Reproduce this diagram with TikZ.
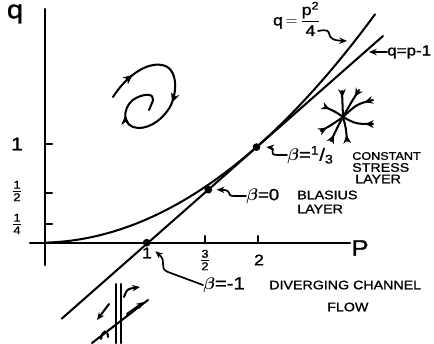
\documentclass[tikz,border=0pt]{standalone}
\usepackage{amsmath}
\usepackage{fontspec}
\setmainfont{Liberation Sans}
\setsansfont{Liberation Sans}
\newfontfamily\hw[FakeStretch=1.15,FakeBold=1.2]{Liberation Sans}
\usetikzlibrary{arrows.meta,decorations.markings}
\begin{document}
\begin{tikzpicture}[x=0.025cm,y=-0.025cm,
  ln/.style={line width=1.45pt, line cap=round},
  thin/.style={line width=1.2pt, line cap=round},
  tip/.style={-{Stealth[length=5.5pt,width=4.5pt]}},
  lbl/.style={font=\hw\fontsize{8.8}{9}\selectfont, inner sep=0pt, anchor=west},
  num/.style={font=\hw\fontsize{12}{12}\selectfont, inner sep=0pt},
  dot/.style={circle, fill, inner sep=0pt, minimum size=5.5pt},
  marks/.style={postaction={decorate}, decoration={markings,
     mark=at position #1 with {\arrow{Stealth[length=6pt,width=5.5pt]}}}},
]
\useasboundingbox (0,0) rectangle (434,343);

% axes
\coordinate (qtop) at (45,9);
\coordinate (qbot) at (45,265);
\coordinate (pl) at (30,242.7);
\coordinate (pr) at (350,242.7);
\draw[ln] (qbot) -- (qtop);
\draw[ln] (pl) -- (pr);

% ticks
\foreach \y in {144,192.7,224} \draw[ln] (45,\y) -- (52,\y);
\foreach \x in {205,257.7} \draw[ln] (\x,242.7) -- (\x,236);

% axis labels
\node[font=\hw\fontsize{18}{18}\selectfont, inner sep=0pt] (qlab) at (15,14) {q};
\node[font=\hw\fontsize{16}{16}\selectfont, inner sep=0pt] (plab) at (360,248) {P};
\node[num, font=\hw\fontsize{13}{13}\selectfont] (q1) at (17,144) {1};
\node[num] (q12) at (17,191) {$\frac{\text{\hw 1}}{\text{\hw 2}}$};
\node[num] (q14) at (17,224) {$\frac{\text{\hw 1}}{\text{\hw 4}}$};
\node[num, font=\hw\fontsize{11}{11}\selectfont] (p1) at (147,253) {1};
\node[num] (p32) at (205,260) {$\frac{\text{\hw 3}}{\text{\hw 2}}$};
\node[num, font=\hw\fontsize{11}{11}\selectfont] (p2) at (259,260) {2};

% line q = p-1 and parabola q = p^2/4
\coordinate (L1) at (61.7,318.7);
\coordinate (L2) at (383,36);
\draw[ln] (L1) -- (L2);
\draw[ln] plot[domain=45:375, samples=70, smooth] (\x, {242.7-0.2023*((\x-39)/10)^2});

% dots
\node[dot] (A) at (146.7,242.7) {};
\node[dot] (B) at (208.3,189.7) {};
\node[dot] (C) at (256.5,147.1) {};

% curve labels
\node[font=\hw\fontsize{11}{12}\selectfont, inner sep=0pt] (parlab) at (297,19)
  {$\displaystyle\text{\hw q}\,{=}\,\frac{\text{\hw p}^{\text{\hw 2}}}{\text{\hw 4}}$};
\coordinate (parpt) at (347,41);
\draw[thin,tip] (318,31) .. controls (338,27) and (320,40) .. (parpt);
\node[lbl, font=\hw\fontsize{10.5}{11}\selectfont] (linlab) at (387,52) {q=p-1};
\coordinate (linpt) at (369,52);
\draw[thin,tip] (linlab.west) -- (linpt);

% beta = 1/3
\node[lbl, font=\hw\fontsize{12.5}{12}\selectfont] (b13) at (287,155) {$\boldsymbol\beta$=\textsuperscript{1}/\textsubscript{3}};
\draw[thin,tip] (b13.west) -- (277,155) .. controls (268,155) and (276,148) .. ([xshift=4pt]C.east);
\node[lbl, font=\hw\fontsize{7.8}{8}\selectfont] (cst) at (352,156) {CONSTANT};
\node[lbl] (str) at (352,167.5) {STRESS};
\node[lbl] (lay1) at (355,179) {LAYER};

% beta = 0
\node[lbl, font=\hw\fontsize{11.5}{12}\selectfont] (b0) at (246,196) {$\boldsymbol\beta$=0};
\draw[thin,tip] (b0.west) -- (234,196) .. controls (225,196) and (234,190) .. ([xshift=3pt]B.east);
\node[lbl] (bla) at (297,195) {BLASIUS};
\node[lbl] (lay2) at (297,209) {LAYER};

% beta = -1
\node[lbl, font=\hw\fontsize{12.5}{12}\selectfont] (bm1) at (203,285) {$\boldsymbol\beta$=-1};
\draw[thin,tip] (bm1.west) -- (168,272) .. controls (158,268) and (168,262) .. ([xshift=4pt,yshift=-4pt]A.south east);
\node[lbl] (div) at (269,285) {DIVERGING CHANNEL};
\node[lbl] (flow) at (327,307) {FLOW};

% spiral (focus)
\draw[ln, marks/.list={0.13,0.47,0.76}]
  (113,97) .. controls (125,78) and (145,62) .. (162,65)
  .. controls (180,68) and (177,98) .. (168,110)
  .. controls (160,122) and (145,131) .. (133,127)
  .. controls (120,122) and (125,103) .. (136,98)
  .. controls (146,93) and (154,94) .. (153,100)
  .. controls (152,104) and (150,107) .. (149,110);

% star node (sink)
\coordinate (S) at (343,117);
\draw[ln, marks=0.25] (342,91) -- (S);
\draw[ln, marks=0.25] (359,90) .. controls (352,101) .. (S);
\draw[ln, marks=0.25] (373,100) .. controls (357,104) .. (S);
\draw[ln, marks=0.25] (373,124) .. controls (356,124) .. (S);
\draw[ln, marks=0.25] (347,141) .. controls (346,128) .. (S);
\draw[ln, marks=0.25] (331,141) .. controls (337,128) .. (S);
\draw[ln, marks=0.25] (321,131) .. controls (333,124) .. (S);
\draw[ln, marks=0.25] (325,107) .. controls (336,112) .. (S);

% saddle sketch (diverging channel flow)
\draw[ln] (116,284) -- (116,343);
\draw[ln] (121,284) -- (121,343);
\draw[ln] (92,343) -- (148,300);
\draw[ln,tip] (127,314) -- (144,302);
\draw[ln,tip] (124,297) .. controls (127,289) .. (140,287);
\draw[ln,tip] (109,304) -- (97,320);
\draw[ln] (101,339) .. controls (102,330) and (108,329) .. (108,337);
\end{tikzpicture}
\end{document}
